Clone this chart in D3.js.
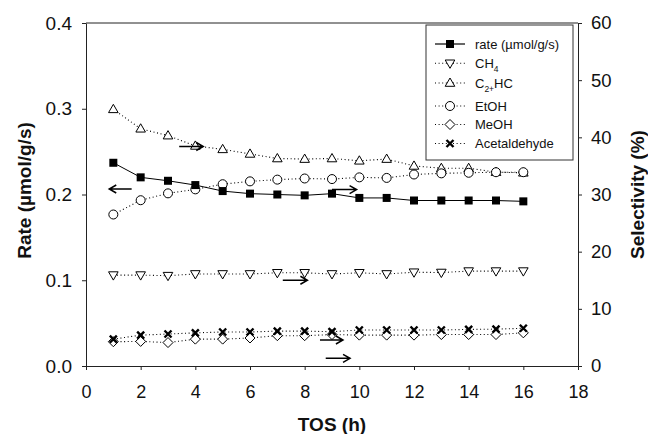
<!DOCTYPE html>
<html><head><meta charset="utf-8">
<script src="https://cdn.jsdelivr.net/npm/d3@7"></script>
<style>
html,body{margin:0;padding:0;background:#fff;}
svg{display:block;font-family:Arial,"Liberation Sans",Helvetica,sans-serif;}
</style></head>
<body>
<svg id="chart" width="648" height="434"></svg>
<script>
// ---- data ----
const tos = [1,2,3,4,5,6,7,8,9,10,11,12,13,14,15,16];
const rate = [0.237,0.220,0.216,0.211,0.204,0.201,0.200,0.199,0.201,0.196,0.196,0.193,0.193,0.193,0.193,0.192];
const ch4  = [15.9,15.9,15.8,16.1,16.1,16.1,16.3,16.3,16.1,16.3,16.1,16.4,16.35,16.6,16.6,16.6];
const c2hc = [44.9,41.5,40.3,38.5,37.9,37.1,36.3,36.2,36.3,35.9,36.2,35.0,34.6,34.6,33.9,33.8];
const etoh = [26.5,29.0,30.2,30.9,31.8,32.3,32.6,32.8,32.7,33.0,32.9,33.5,33.7,33.8,33.9,33.9];
const meoh = [4.25,4.3,4.1,4.7,4.7,4.9,5.3,5.3,5.5,5.4,5.4,5.4,5.5,5.5,5.5,5.8];
const acet = [4.7,5.4,5.6,5.8,5.95,5.95,6.1,6.1,6.0,6.3,6.3,6.3,6.3,6.4,6.45,6.6];
const xTicks = [0,2,4,6,8,10,12,14,16,18];
const leftTicks = [0,0.1,0.2,0.3,0.4];
const rightTicks = [0,10,20,30,40,50,60];
const legendNames = ["rate (µmol/g/s)","CH4","C2+HC","EtOH","MeOH","Acetaldehyde"];
// annotation arrows in data coords: [x1,x2,y,axis] (pointing from x1 to x2)
const arrows = [[1.67,0.85,0.2064,"L"],[3.41,4.29,38.4,"R"],[9.0,9.9,0.2058,"L"],[7.2,8.1,15.0,"R"],[8.56,9.4,4.55,"R"],[8.77,9.66,1.34,"R"]];

// ---- layout ----
const svg = d3.select("#chart");
const L=86, R=578, T=23, B=366;
const x = d3.scaleLinear().domain([0,18]).range([L,R]);
const yL = d3.scaleLinear().domain([0,0.4]).range([B,T]);
const yR = d3.scaleLinear().domain([0,60]).range([B,T]);
const axisColor="#222";

// top frame
svg.append("line").attr("x1",L).attr("x2",R).attr("y1",T).attr("y2",T).attr("stroke",axisColor).attr("stroke-width",1);

function styleAxis(fs){
  return g=>{
    g.selectAll("path,line").attr("stroke",axisColor).attr("stroke-width",1);
    g.selectAll("text").attr("font-size",fs).attr("fill","#111").attr("font-family",'Arial,"Liberation Sans",sans-serif');
  };
}
svg.append("g").attr("transform",`translate(0,${B})`)
  .call(d3.axisBottom(x).tickValues(xTicks).tickSize(4).tickSizeOuter(0).tickPadding(15).tickFormat(d3.format("d")))
  .call(styleAxis(18));
svg.append("g").attr("transform",`translate(${L},0)`)
  .call(d3.axisLeft(yL).tickValues(leftTicks).tickSize(4).tickSizeOuter(0).tickPadding(10).tickFormat(d3.format(".1f")))
  .call(styleAxis(19));
svg.append("g").attr("transform",`translate(${R},0)`)
  .call(d3.axisRight(yR).tickValues(rightTicks).tickSize(4).tickSizeOuter(0).tickPadding(9).tickFormat(d3.format("d")))
  .call(styleAxis(18.5));

// axis titles
svg.append("text").attr("x",(L+R)/2).attr("y",431).attr("text-anchor","middle")
  .attr("font-size",19).attr("font-weight","bold").attr("fill","#111").text("TOS (h)");
svg.append("text").attr("transform",`translate(31,${(T+B)/2-4}) rotate(-90)`).attr("text-anchor","middle")
  .attr("font-size",19).attr("font-weight","bold").attr("fill","#111").text("Rate (µmol/g/s)");
svg.append("text").attr("transform",`translate(644,${(T+B)/2}) rotate(-90)`).attr("text-anchor","middle")
  .attr("font-size",19).attr("font-weight","bold").attr("fill","#111").text("Selectivity (%)");

// markers
function marker(g, type){
  if(type==="square"){
    g.append("rect").attr("x",-4).attr("y",-4).attr("width",8).attr("height",8).attr("fill","#000");
  } else if(type==="tri"){
    g.append("path").attr("d","M0,-5L4.8,3.3L-4.8,3.3Z").attr("fill","#fff").attr("stroke","#000").attr("stroke-width",1);
  } else if(type==="tridown"){
    g.append("path").attr("d","M0,5L4.8,-3.3L-4.8,-3.3Z").attr("fill","#fff").attr("stroke","#000").attr("stroke-width",1);
  } else if(type==="circle"){
    g.append("circle").attr("r",4.5).attr("fill","#fff").attr("stroke","#000").attr("stroke-width",1);
  } else if(type==="diamond"){
    g.append("path").attr("d","M0,-5L5,0L0,5L-5,0Z").attr("fill","#fff").attr("stroke","#000").attr("stroke-width",1);
  } else if(type==="x"){
    g.append("path").attr("d","M-3.5,-3.5L3.5,3.5M3.5,-3.5L-3.5,3.5").attr("stroke","#000").attr("stroke-width",2.4).attr("fill","none");
  }
}

const series = [
  {vals:ch4, scale:yR, type:"tridown", dash:true},
  {vals:c2hc, scale:yR, type:"tri", dash:true},
  {vals:etoh, scale:yR, type:"circle", dash:true},
  {vals:meoh, scale:yR, type:"diamond", dash:true},
  {vals:acet, scale:yR, type:"x", dash:true},
  {vals:rate, scale:yL, type:"square", dash:false}
];
const legendTypes = ["square","tridown","tri","circle","diamond","x"];

series.forEach(s=>{
  const line = d3.line().x((d,i)=>x(tos[i])).y(d=>s.scale(d));
  svg.append("path").datum(s.vals).attr("d",line).attr("fill","none").attr("stroke","#000")
    .attr("stroke-width",s.dash?1.1:1).attr("stroke-dasharray",s.dash?"1,2.6":null);
});
series.forEach(s=>{
  svg.selectAll(null).data(s.vals).enter().append("g")
    .attr("transform",(d,i)=>`translate(${x(tos[i])},${s.scale(d)})`)
    .each(function(){ marker(d3.select(this), s.type); });
});

// arrows
function arrow(x1,x2,y){
  const dir = Math.sign(x2-x1);
  svg.append("path").attr("d",`M${x1},${y}L${x2},${y}M${x2-dir*7},${y-4}L${x2},${y}L${x2-dir*7},${y+4}`)
    .attr("fill","none").attr("stroke","#000").attr("stroke-width",1.5);
}
arrows.forEach(a=>{
  const sc = a[3]==="L"?yL:yR;
  arrow(x(a[0]),x(a[1]),sc(a[2]));
});

// legend
const lg = svg.append("g");
lg.append("rect").attr("x",426).attr("y",25).attr("width",147).attr("height",135).attr("fill","#fff").attr("stroke","#333").attr("stroke-width",1);
const legY = [44,63.3,83,106,124.5,143.5];
legendNames.forEach((name,i)=>{
  const y = legY[i];
  lg.append("line").attr("x1",435).attr("x2",465).attr("y1",y).attr("y2",y).attr("stroke","#000")
    .attr("stroke-width",i===0?1.2:1.1).attr("stroke-dasharray",i===0?null:"1,2.6");
  const m = lg.append("g").attr("transform",`translate(450,${y})`);
  marker(m, legendTypes[i]);
  const t = lg.append("text").attr("x",475).attr("y",y+4.5).attr("font-size",13).attr("fill","#111");
  if(name==="CH4"){
    t.append("tspan").text("CH");
    t.append("tspan").attr("font-size",8.5).attr("dy",4).text("4");
  } else if(name==="C2+HC"){
    t.append("tspan").text("C");
    t.append("tspan").attr("font-size",8.5).attr("dy",4).text("2+");
    t.append("tspan").attr("dy",-4).text("HC");
  } else t.text(name);
});
</script>
</body></html>
